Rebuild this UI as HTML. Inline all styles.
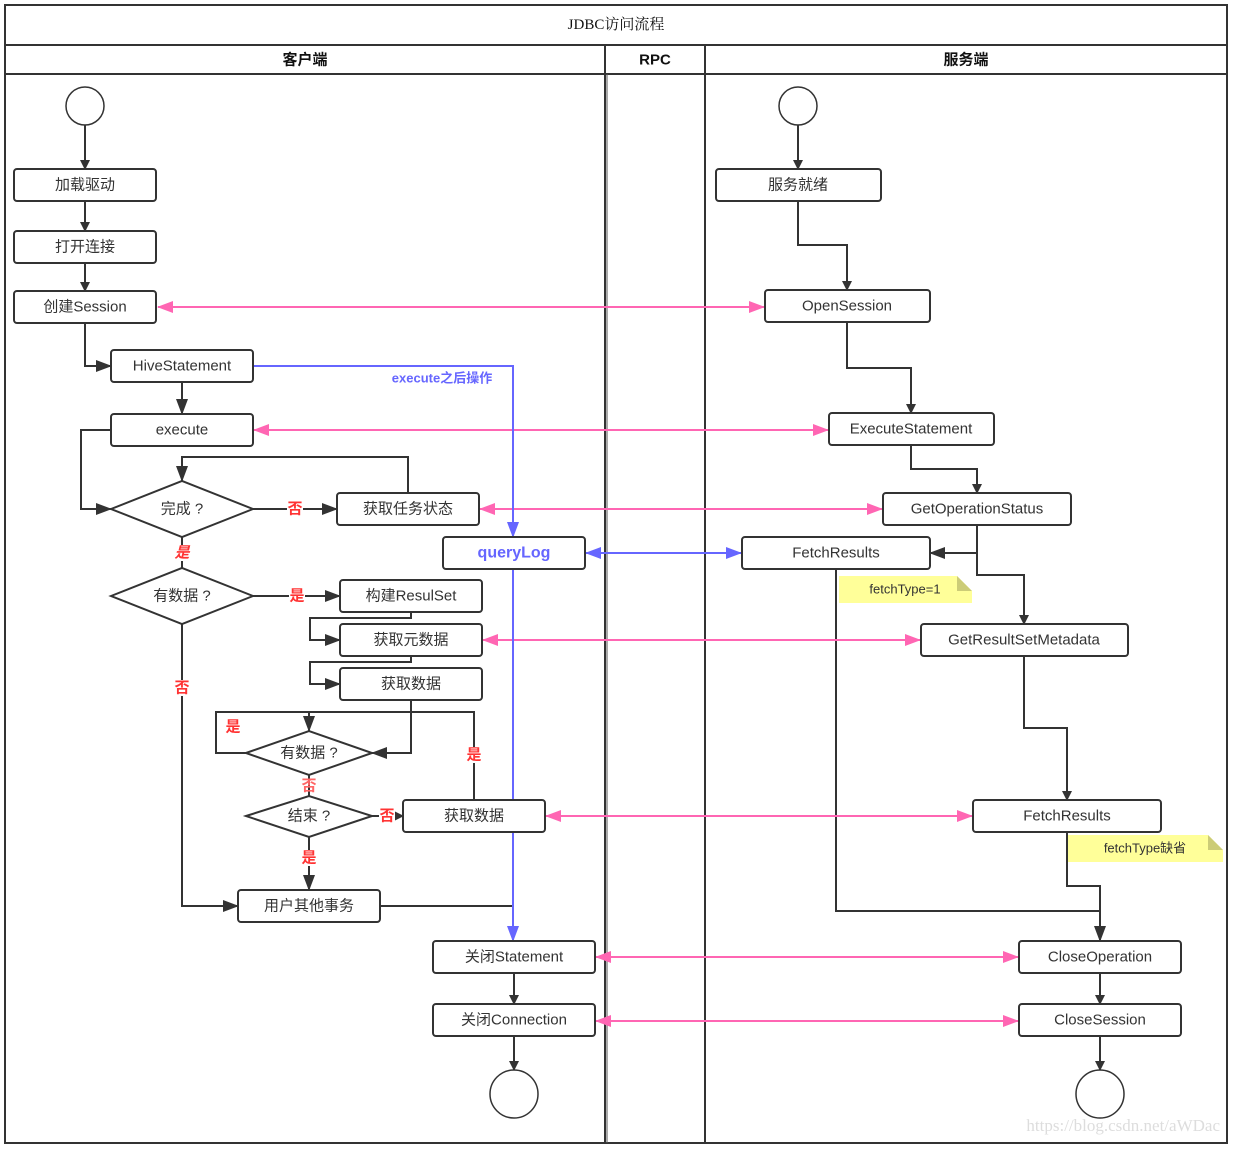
<!DOCTYPE html>
<html><head><meta charset="utf-8"><style>
html,body{margin:0;padding:0;background:#fff;}
svg{display:block;font-family:"Liberation Sans","Noto Sans CJK SC",sans-serif;}
.b{fill:#fff;stroke:#333;stroke-width:2;}
.t{font-size:15px;fill:#333;text-anchor:middle;dominant-baseline:central;}
.l{fill:none;stroke:#333;stroke-width:2;}
.p{fill:none;stroke:#ff66b3;stroke-width:2;}
.u{fill:none;stroke:#6666ff;stroke-width:2;}
.r{font-size:15px;fill:#ff3333;font-weight:bold;text-anchor:middle;dominant-baseline:central;}
</style></head><body>
<svg width="1233" height="1150" viewBox="0 0 1233 1150" xmlns="http://www.w3.org/2000/svg">
<defs>
<marker id="k" markerWidth="10" markerHeight="10" refX="9" refY="5" orient="auto" markerUnits="userSpaceOnUse" viewBox="0 0 10 10"><path d="M0,0 L10,5 L0,10z" fill="#333"/></marker>
<marker id="ks" markerWidth="16" markerHeight="12" refX="15" refY="6" orient="auto" markerUnits="userSpaceOnUse" viewBox="0 0 16 12"><path d="M0,0 L16,6 L0,12z" fill="#333"/></marker>
<marker id="pe" markerWidth="16" markerHeight="12" refX="15" refY="6" orient="auto" markerUnits="userSpaceOnUse" viewBox="0 0 16 12"><path d="M0,0 L16,6 L0,12z" fill="#ff66b3"/></marker>
<marker id="ps" markerWidth="16" markerHeight="12" refX="1" refY="6" orient="auto" markerUnits="userSpaceOnUse" viewBox="0 0 16 12"><path d="M16,0 L0,6 L16,12z" fill="#ff66b3"/></marker>
<marker id="ue" markerWidth="16" markerHeight="12" refX="15" refY="6" orient="auto" markerUnits="userSpaceOnUse" viewBox="0 0 16 12"><path d="M0,0 L16,6 L0,12z" fill="#6666ff"/></marker>
<marker id="us" markerWidth="16" markerHeight="12" refX="1" refY="6" orient="auto" markerUnits="userSpaceOnUse" viewBox="0 0 16 12"><path d="M16,0 L0,6 L16,12z" fill="#6666ff"/></marker>
</defs>
<!-- frame -->
<rect x="5" y="5" width="1222" height="1138" fill="none" stroke="#333" stroke-width="2"/>
<line x1="5" y1="45" x2="1227" y2="45" stroke="#333" stroke-width="2"/>
<line x1="5" y1="74" x2="1227" y2="74" stroke="#333" stroke-width="2"/>
<line x1="605" y1="45" x2="605" y2="1143" stroke="#333" stroke-width="2"/>
<line x1="607" y1="74" x2="607" y2="1143" stroke="#555" stroke-width="1"/>
<line x1="705" y1="45" x2="705" y2="1143" stroke="#333" stroke-width="2"/>
<text x="616" y="25" class="t" style="font-family:'Liberation Serif','Noto Serif CJK SC',serif;fill:#111;font-size:15px">JDBC访问流程</text>
<text x="305" y="60" class="t" style="font-weight:bold;fill:#111">客户端</text>
<text x="655" y="60" class="t" style="font-weight:bold;fill:#111">RPC</text>
<text x="966" y="60" class="t" style="font-weight:bold;fill:#111">服务端</text>

<!-- black connectors -->
<g class="l">
<path d="M85 125V169" marker-end="url(#k)"/>
<path d="M85 201V231" marker-end="url(#k)"/>
<path d="M85 263V291" marker-end="url(#k)"/>
<path d="M85 323V366H111" marker-end="url(#ks)"/>
<path d="M182 382V414" marker-end="url(#ks)"/>
<path d="M111 430H81V509H111" marker-end="url(#ks)"/>
<path d="M408 493V457H182V481" marker-end="url(#ks)"/>
<path d="M253 509H337" marker-end="url(#ks)"/>
<path d="M182 537V568"/>
<path d="M253 596H340" marker-end="url(#ks)"/>
<path d="M411 612V618H310V640H340" marker-end="url(#ks)"/>
<path d="M411 656V662H310V684H340" marker-end="url(#ks)"/>
<path d="M411 700V753H372" marker-end="url(#ks)"/>
<path d="M246 753H216V712H309V731" marker-end="url(#ks)"/>
<path d="M474 800V712H309"/>
<path d="M309 775V796"/>
<path d="M372 816H403" marker-end="url(#k)"/>
<path d="M309 837V890" marker-end="url(#ks)"/>
<path d="M182 624V906H238" marker-end="url(#ks)"/>
<path d="M380 906H513"/>
<path d="M514 973V1004" marker-end="url(#k)"/>
<path d="M514 1036V1070" marker-end="url(#k)"/>
<path d="M798 125V169" marker-end="url(#k)"/>
<path d="M798 201V245H847V290" marker-end="url(#k)"/>
<path d="M847 322V368H911V413" marker-end="url(#k)"/>
<path d="M911 445V469H977V493" marker-end="url(#k)"/>
<path d="M977 525V553H930" marker-end="url(#ks)"/>
<path d="M977 553V575H1024V624" marker-end="url(#k)"/>
<path d="M1024 656V728H1067V800" marker-end="url(#k)"/>
<path d="M836 569V911H1100"/>
<path d="M1067 832V886H1100V941" marker-end="url(#ks)"/>
<path d="M1100 973V1004" marker-end="url(#k)"/>
<path d="M1100 1036V1070" marker-end="url(#k)"/>
</g>
<!-- pink -->
<g class="p">
<path d="M158 307H764" marker-start="url(#ps)" marker-end="url(#pe)"/>
<path d="M254 430H828" marker-start="url(#ps)" marker-end="url(#pe)"/>
<path d="M480 509H882" marker-start="url(#ps)" marker-end="url(#pe)"/>
<path d="M483 640H920" marker-start="url(#ps)" marker-end="url(#pe)"/>
<path d="M546 816H972" marker-start="url(#ps)" marker-end="url(#pe)"/>
<path d="M596 957H1018" marker-start="url(#ps)" marker-end="url(#pe)"/>
<path d="M596 1021H1018" marker-start="url(#ps)" marker-end="url(#pe)"/>
</g>
<!-- blue -->
<g class="u">
<path d="M253 366H513V537" marker-end="url(#ue)"/>
<path d="M513 569V941" marker-end="url(#ue)"/>
<path d="M586 553H741" marker-start="url(#us)" marker-end="url(#ue)"/>
</g>
<text x="442" y="378" style="font-size:13px;font-weight:bold;fill:#6666ff" text-anchor="middle" dominant-baseline="central">execute之后操作</text>

<!-- circles -->
<circle cx="85" cy="106" r="19" class="b" style="stroke-width:1.5"/>
<circle cx="798" cy="106" r="19" class="b" style="stroke-width:1.5"/>
<circle cx="514" cy="1094" r="24" class="b" style="stroke-width:1.5"/>
<circle cx="1100" cy="1094" r="24" class="b" style="stroke-width:1.5"/>

<!-- boxes -->
<g>
<rect x="14" y="169" width="142" height="32" rx="3" class="b"/><text x="85" y="185" class="t">加载驱动</text>
<rect x="14" y="231" width="142" height="32" rx="3" class="b"/><text x="85" y="247" class="t">打开连接</text>
<rect x="14" y="291" width="142" height="32" rx="3" class="b"/><text x="85" y="307" class="t">创建Session</text>
<rect x="111" y="350" width="142" height="32" rx="3" class="b"/><text x="182" y="366" class="t">HiveStatement</text>
<rect x="111" y="414" width="142" height="32" rx="3" class="b"/><text x="182" y="430" class="t">execute</text>
<path d="M111 509L182 481L253 509L182 537Z" class="b"/><text x="182" y="509" class="t">完成 ?</text>
<rect x="337" y="493" width="142" height="32" rx="3" class="b"/><text x="408" y="509" class="t">获取任务状态</text>
<rect x="443" y="537" width="142" height="32" rx="3" class="b"/><text x="514" y="553" class="t" style="fill:#6666ff;font-weight:bold;font-size:16px">queryLog</text>
<path d="M111 596L182 568L253 596L182 624Z" class="b"/><text x="182" y="596" class="t">有数据 ?</text>
<rect x="340" y="580" width="142" height="32" rx="3" class="b"/><text x="411" y="596" class="t">构建ResulSet</text>
<rect x="340" y="624" width="142" height="32" rx="3" class="b"/><text x="411" y="640" class="t">获取元数据</text>
<rect x="340" y="668" width="142" height="32" rx="3" class="b"/><text x="411" y="684" class="t">获取数据</text>
<path d="M246 753L309 731L372 753L309 775Z" class="b"/><text x="309" y="753" class="t">有数据 ?</text>
<path d="M246 816L309 796L372 816L309 837Z" class="b"/><text x="309" y="816" class="t">结束 ?</text>
<rect x="403" y="800" width="142" height="32" rx="3" class="b"/><text x="474" y="816" class="t">获取数据</text>
<rect x="238" y="890" width="142" height="32" rx="3" class="b"/><text x="309" y="906" class="t">用户其他事务</text>
<rect x="433" y="941" width="162" height="32" rx="3" class="b"/><text x="514" y="957" class="t">关闭Statement</text>
<rect x="433" y="1004" width="162" height="32" rx="3" class="b"/><text x="514" y="1020" class="t">关闭Connection</text>

<rect x="716" y="169" width="165" height="32" rx="3" class="b"/><text x="798" y="185" class="t">服务就绪</text>
<rect x="765" y="290" width="165" height="32" rx="3" class="b"/><text x="847" y="306" class="t">OpenSession</text>
<rect x="829" y="413" width="165" height="32" rx="3" class="b"/><text x="911" y="429" class="t">ExecuteStatement</text>
<rect x="883" y="493" width="188" height="32" rx="3" class="b"/><text x="977" y="509" class="t">GetOperationStatus</text>
<rect x="742" y="537" width="188" height="32" rx="3" class="b"/><text x="836" y="553" class="t">FetchResults</text>
<rect x="921" y="624" width="207" height="32" rx="3" class="b"/><text x="1024" y="640" class="t">GetResultSetMetadata</text>
<rect x="973" y="800" width="188" height="32" rx="3" class="b"/><text x="1067" y="816" class="t">FetchResults</text>
<rect x="1019" y="941" width="162" height="32" rx="3" class="b"/><text x="1100" y="957" class="t">CloseOperation</text>
<rect x="1019" y="1004" width="162" height="32" rx="3" class="b"/><text x="1100" y="1020" class="t">CloseSession</text>
</g>
<!-- notes -->
<path d="M839 576H957L972 591V603H839Z" fill="#ffff99"/><path d="M957 576L972 591H957Z" fill="#cccc77"/>
<text x="905" y="589" class="t" style="font-size:13px">fetchType=1</text>
<path d="M1067 835H1208L1223 850V862H1067Z" fill="#ffff99"/><path d="M1208 835L1223 850H1208Z" fill="#cccc77"/>
<text x="1145" y="848" class="t" style="font-size:13px">fetchType缺省</text>
<line x1="1067" y1="832" x2="1067" y2="886" stroke="#333" stroke-width="2"/>

<!-- red labels -->
<rect x="287" y="501" width="16" height="16" fill="#fff"/><text x="295" y="509" class="r">否</text>
<rect x="174" y="545" width="16" height="16" fill="#fff"/><text x="182" y="553" class="r" style="font-style:italic">是</text>
<rect x="289" y="588" width="16" height="16" fill="#fff"/><text x="297" y="596" class="r">是</text>
<rect x="174" y="680" width="16" height="16" fill="#fff"/><text x="182" y="688" class="r">否</text>
<text x="233" y="727" class="r">是</text>
<rect x="466" y="747" width="16" height="16" fill="#fff"/><text x="474" y="755" class="r">是</text>
<text x="309" y="786" class="r" style="fill:#ff6666">否</text>
<rect x="379" y="808" width="16" height="16" fill="#fff"/><text x="387" y="816" class="r">否</text>
<rect x="301" y="850" width="16" height="16" fill="#fff"/><text x="309" y="858" class="r">是</text>

<text x="1220" y="1131" text-anchor="end" style="font-family:'Liberation Serif',serif;font-size:17px;fill:#ddd">https://blog.csdn.net/aWDac</text>
</svg>
</body></html>
